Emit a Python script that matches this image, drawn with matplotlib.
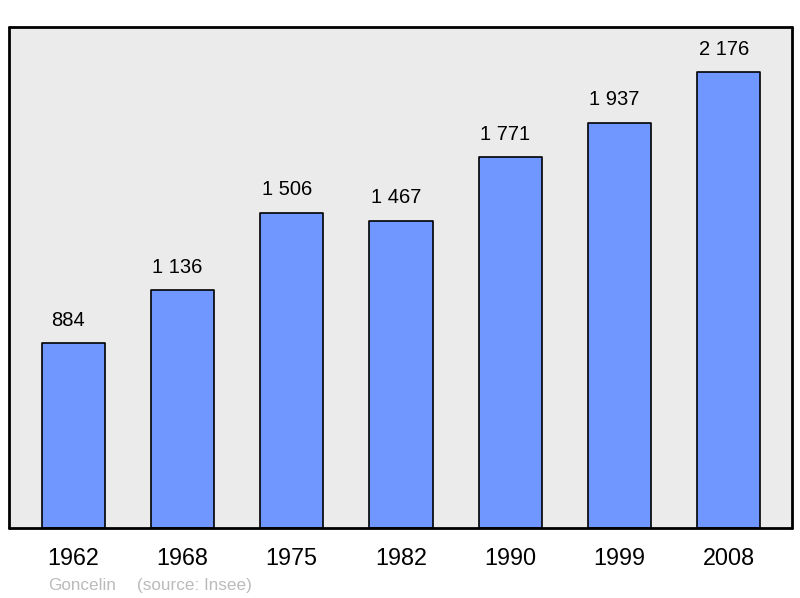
import matplotlib.pyplot as plt

plt.rcParams['font.family'] = ['Liberation Sans', 'DejaVu Sans']

# données
years = ['1962', '1968', '1975', '1982', '1990', '1999', '2008']
population = [884, 1136, 1506, 1467, 1771, 1937, 2176]
labels = ['884', '1 136', '1 506', '1 467', '1 771', '1 937', '2 176']

fig = plt.figure(figsize=(8, 5.98), dpi=100)
ax = fig.add_axes([0.011, 0.117, 0.979, 0.838])
ax.set_facecolor('#ebebeb')

bars = ax.bar(range(len(years)), population, width=0.58,
              color='#7096ff', edgecolor='black', linewidth=1.2)
for b in bars:
    b.set_joinstyle('round')

for i, (v, t) in enumerate(zip(population, labels)):
    ax.annotate(t, (i, v), xytext=(-3.6, 16.5), textcoords='offset points',
                ha='center', va='center', fontsize=14.5)

ax.set_xlim(-0.59, 6.58)
ax.set_ylim(0, max(population) * 1.1)
ax.set_xticks(range(len(years)))
ax.set_xticklabels(years, fontsize=16.8)
ax.tick_params(axis='x', length=0, pad=14)
ax.set_yticks([])
for s in ax.spines.values():
    s.set_linewidth(2)
    s.set_capstyle('round')

fig.text(0.06, 0.013, 'Goncelin', color='#bbbbbb', fontsize=12.3)
fig.text(0.171, 0.013, '(source: Insee)', color='#bbbbbb', fontsize=12.3)

fig.savefig('out.png')
